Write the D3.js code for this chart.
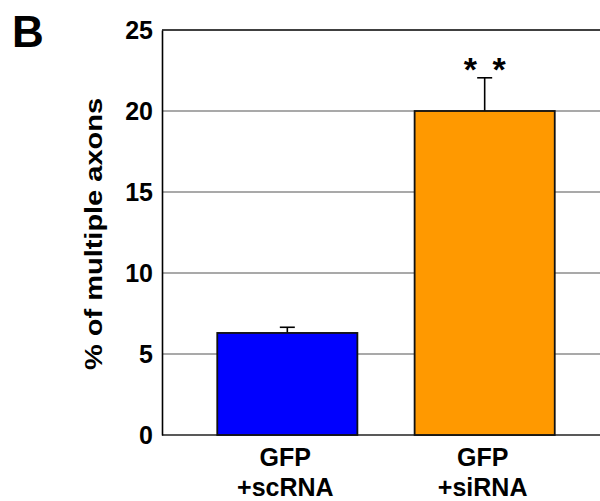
<!DOCTYPE html>
<html>
<head>
<meta charset="utf-8">
<script src="https://d3js.org/d3.v7.min.js"></script>
<style>
  body { margin: 0; background: #fff; }
  text { font-family: "Liberation Sans", Arial, sans-serif; font-weight: bold; fill: #000; }
</style>
</head>
<body>
<div id="chart"></div>
<script>
// values
var groups = ["scRNA", "siRNA"];
var labelTop = ["GFP", "GFP"];
var labelBottom = ["+scRNA", "+siRNA"];
var values = [6.3, 20.0];
var errors = [0.35, 2.05];
var colors = ["#0000ff", "#ff9900"];
var stars = ["", "* *"];
var yTicks = [0, 5, 10, 15, 20, 25];

var width = 600, height = 501;
// note: "top" is a reserved window property, so use plotTop etc.
var plotLeft = 162, plotRight = 610, plotTop = 30, plotBottom = 435;

var svg = d3.select("#chart")
  .append("svg")
    .attr("width", width)
    .attr("height", height);

var x = d3.scaleBand()
    .domain(groups)
    .range([plotLeft, plotRight])
    .paddingInner(0.29)
    .paddingOuter(0.28);

var y = d3.scaleLinear()
    .domain([0, 25])
    .range([plotBottom, plotTop]);

// gridlines
svg.append("g")
  .selectAll("line")
  .data(yTicks.filter(function(d) { return d > 0 && d < 25; }))
  .enter().append("line")
    .attr("x1", plotLeft)
    .attr("x2", plotRight)
    .attr("y1", function(d) { return y(d); })
    .attr("y2", function(d) { return y(d); })
    .attr("stroke", "#555")
    .attr("stroke-width", 1.2);

// top border + baseline
svg.append("line")
    .attr("x1", plotLeft).attr("x2", plotRight)
    .attr("y1", y(25)).attr("y2", y(25))
    .attr("stroke", "#000").attr("stroke-width", 1.6);
svg.append("line")
    .attr("x1", plotLeft).attr("x2", plotRight)
    .attr("y1", y(0)).attr("y2", y(0))
    .attr("stroke", "#222").attr("stroke-width", 1.6);

var yAxis = d3.axisLeft(y)
    .tickValues(yTicks)
    .tickSize(0)
    .tickPadding(9);

var ga = svg.append("g")
    .attr("transform", "translate(" + plotLeft + ",0)")
    .call(yAxis);
ga.select(".domain").attr("stroke", "#000").attr("stroke-width", 1.6);
ga.selectAll("text")
    .attr("font-family", "Liberation Sans, Arial, sans-serif")
    .attr("font-weight", "bold")
    .attr("font-size", 25)
    .attr("fill", "#000");

// error bars (drawn first, bar covers the lower part)
var eb = svg.append("g");
eb.selectAll("line.err")
  .data(groups)
  .enter().append("line")
    .attr("class", "err")
    .attr("x1", function(d) { return x(d) + x.bandwidth() / 2; })
    .attr("x2", function(d) { return x(d) + x.bandwidth() / 2; })
    .attr("y1", function(d, i) { return y(values[i]); })
    .attr("y2", function(d, i) { return y(values[i] + errors[i]); })
    .attr("stroke", "#000").attr("stroke-width", 1.6);
eb.selectAll("line.cap")
  .data(groups)
  .enter().append("line")
    .attr("class", "cap")
    .attr("x1", function(d) { return x(d) + x.bandwidth() / 2 - 7.5; })
    .attr("x2", function(d) { return x(d) + x.bandwidth() / 2 + 7.5; })
    .attr("y1", function(d, i) { return y(values[i] + errors[i]); })
    .attr("y2", function(d, i) { return y(values[i] + errors[i]); })
    .attr("stroke", "#000").attr("stroke-width", 1.6);

svg.append("g")
  .selectAll("rect")
  .data(groups)
  .enter().append("rect")
    .attr("x", function(d) { return x(d); })
    .attr("y", function(d, i) { return y(values[i]); })
    .attr("width", x.bandwidth())
    .attr("height", function(d, i) { return y(0) - y(values[i]); })
    .attr("fill", function(d, i) { return colors[i]; })
    .attr("stroke", "#111")
    .attr("stroke-width", 1.8);

// significance stars
svg.append("g")
  .selectAll("text")
  .data(groups)
  .enter().append("text")
    .attr("x", function(d) { return x(d) + x.bandwidth() / 2; })
    .attr("y", function(d, i) { return y(values[i] + errors[i]) + 3; })
    .attr("text-anchor", "middle")
    .attr("font-size", 34)
    .attr("word-spacing", 6)
    .text(function(d, i) { return stars[i]; });

// category labels
var xl = svg.append("g");
xl.selectAll("text.l1")
  .data(groups)
  .enter().append("text")
    .attr("class", "l1")
    .attr("x", function(d) { return x(d) + x.bandwidth() / 2 - 2; })
    .attr("y", 466)
    .attr("text-anchor", "middle")
    .attr("font-size", 25)
    .text(function(d, i) { return labelTop[i]; });
xl.selectAll("text.l2")
  .data(groups)
  .enter().append("text")
    .attr("class", "l2")
    .attr("x", function(d) { return x(d) + x.bandwidth() / 2 - 2; })
    .attr("y", 496)
    .attr("text-anchor", "middle")
    .attr("font-size", 25)
    .text(function(d, i) { return labelBottom[i]; });

svg.append("text")
    .attr("transform", "translate(102,234) rotate(-90)")
    .attr("text-anchor", "middle")
    .attr("font-size", 24)
    .attr("textLength", 272)
    .attr("lengthAdjust", "spacingAndGlyphs")
    .text("% of multiple axons");

svg.append("text")
    .attr("x", 12)
    .attr("y", 47)
    .attr("font-size", 44)
    .text("B");
</script>
</body>
</html>
